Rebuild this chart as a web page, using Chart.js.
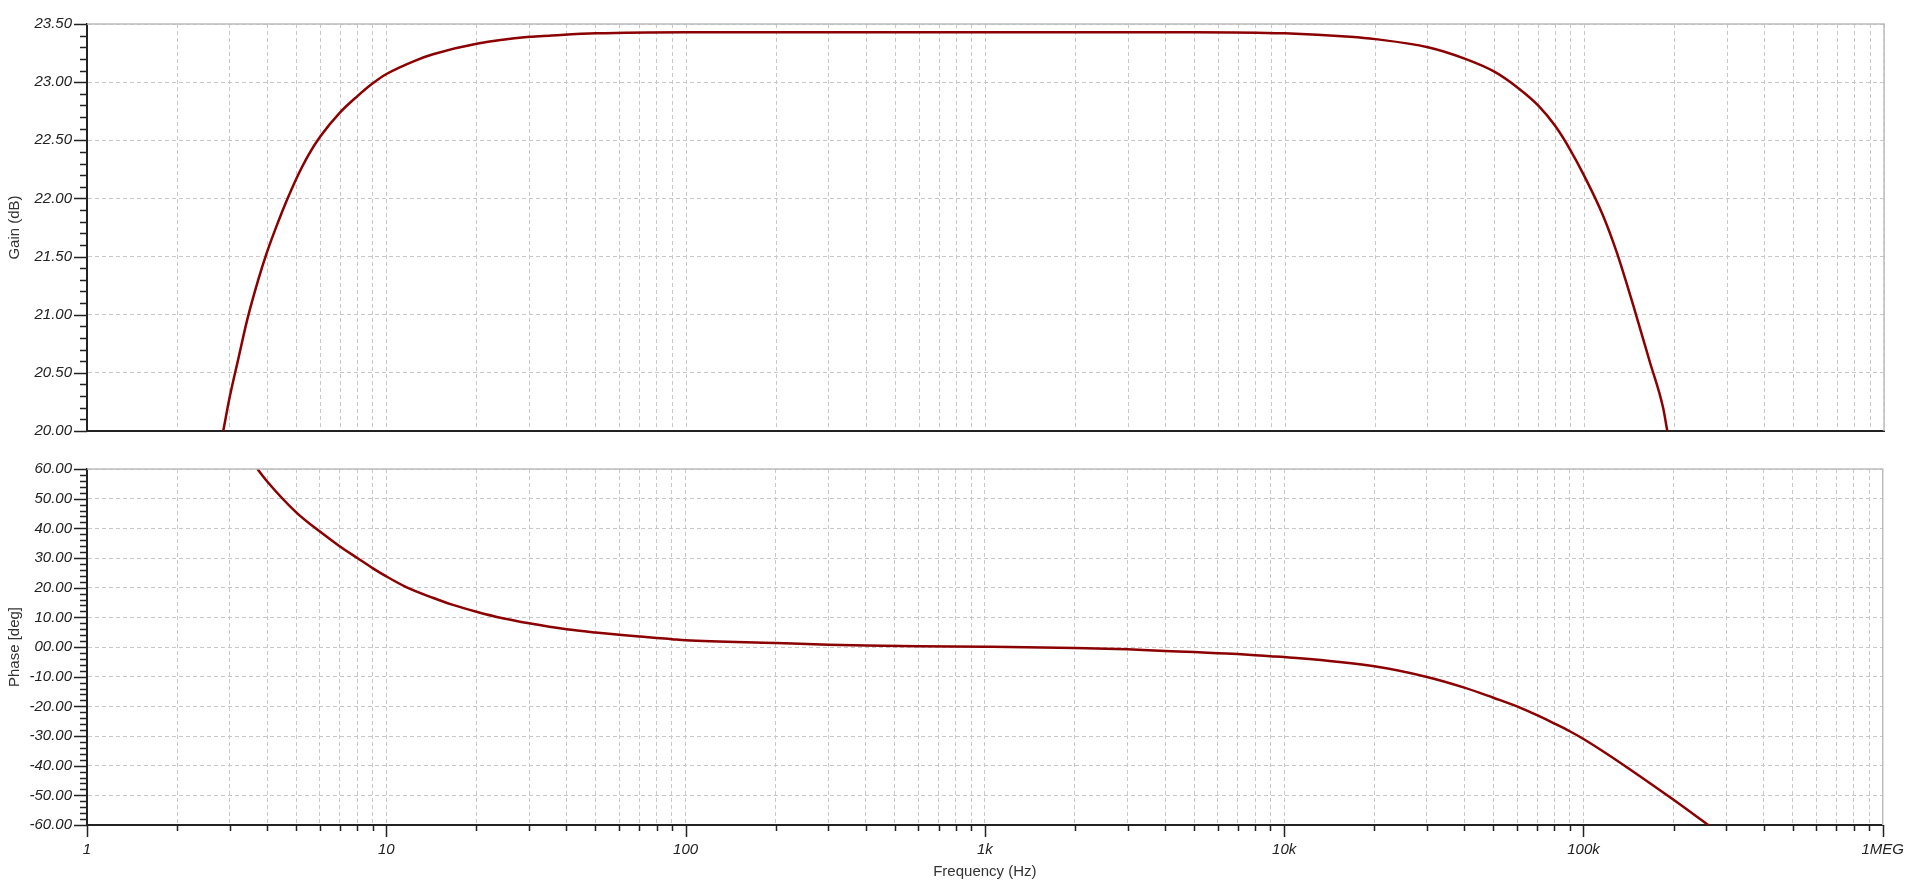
<!DOCTYPE html>
<html>
<head>
<meta charset="utf-8">
<title>Gain / Phase</title>
<script src="https://cdn.jsdelivr.net/npm/chart.js@4.4.0/dist/chart.umd.min.js"></script>
<style>
  html, body { margin: 0; padding: 0; background: #fff; }
  #wrap { position: relative; width: 1920px; height: 888px; }
  .box { position: absolute; left: 0; width: 1920px; }
</style>
</head>
<body>
<div id="wrap">
  <div class="box" style="top:0;height:455px"><canvas id="gain"></canvas></div>
  <div class="box" style="top:440px;height:448px"><canvas id="phase"></canvas></div>
</div>
<script>
// axe des fréquences (décades + libellés)
const decades = [1, 10, 100, 1000, 10000, 100000, 1000000];
const decadeLabels = ['1', '10', '100', '1k', '10k', '100k', '1MEG'];

// gain (dB)
const gainFreq = [2.85, 3.0, 3.2, 3.43, 3.73, 3.98, 4.35, 4.64, 5, 5.48, 6, 7, 8, 9, 10, 12.6, 14.3, 20, 30, 35, 50, 100,
  1000, 5000, 10000, 16500, 20000, 30000, 40000, 50000, 60000, 70000, 80000, 90000, 100000, 115000, 128000, 145500, 165000, 183000, 189000];
const gainDb = [20.0, 20.3, 20.62, 20.96, 21.3, 21.53, 21.8, 21.98, 22.17, 22.37, 22.53, 22.74, 22.88, 22.99, 23.07, 23.19, 23.24, 23.33, 23.39, 23.40, 23.42, 23.43,
  23.43, 23.43, 23.42, 23.39, 23.37, 23.30, 23.2, 23.09, 22.95, 22.8, 22.62, 22.41, 22.19, 21.86, 21.54, 21.08, 20.6, 20.2, 20.0];

// phase (deg)
const phaseFreq = [3.71, 4, 5, 6, 7, 8, 9, 10, 11.7, 14.3, 16.7, 20, 24.5, 30, 40, 50, 60, 70, 80, 90, 100, 200, 300, 400, 600,
  1000, 2000, 3000, 4000, 5000, 6000, 7000, 8000, 9000, 10000, 20000, 30000, 40000, 50000, 60000, 70000, 80000, 90000, 100000, 121000, 140000, 200000, 262000];
const phaseDeg = [60, 55.8, 45.4, 38.9, 33.9, 30, 26.6, 23.8, 20.1, 16.6, 14.2, 11.9, 9.7, 8.0, 6.0, 4.9, 4.15, 3.55, 3.05, 2.65, 2.3, 1.35, 0.8, 0.5, 0.25,
  0.1, -0.3, -0.8, -1.35, -1.7, -2.1, -2.4, -2.75, -3.1, -3.4, -6.5, -10.1, -13.7, -17.1, -20.0, -23.0, -25.8, -28.4, -31.0, -36.3, -40.6, -51.5, -60.1];

// graduations log : 1..9 x 10^n
const xTicks = [];
decades.forEach((d, i) => {
  if (i === decades.length - 1) { xTicks.push(d); return; }
  for (let k = 1; k <= 9; k++) xTicks.push(k * d);
});

const LINE = '#8b0000';
const GRID = '#c8c8c8';
const AXIS = '#222';
const tickFont = { family: 'Liberation Sans', size: 15, style: 'italic' };
const titleFont = { family: 'Liberation Sans', size: 15 };

// petites graduations + cadre haut/droite
const axisDecor = {
  id: 'axisDecor',
  afterDraw(chart, args, opts) {
    const { ctx, chartArea: a, scales } = chart;
    ctx.save();
    ctx.strokeStyle = '#bdbdbd';
    ctx.lineWidth = 1.5;
    ctx.beginPath();
    ctx.moveTo(a.left, a.top);
    ctx.lineTo(a.right, a.top);
    ctx.lineTo(a.right, a.bottom);
    ctx.stroke();

    ctx.strokeStyle = AXIS;
    ctx.lineWidth = 1.5;
    const y = scales.y;
    const n = Math.round((y.max - y.min) / opts.minorStep);
    ctx.beginPath();
    for (let i = 0; i <= n; i++) {
      const py = Math.round(y.getPixelForValue(y.min + i * opts.minorStep)) + 0.5;
      const len = i % opts.perMajor === 0 ? 13 : 7;
      ctx.moveTo(a.left, py);
      ctx.lineTo(a.left - len, py);
    }
    if (opts.xTicks) {
      const x = scales.x;
      xTicks.forEach(v => {
        const px = Math.round(x.getPixelForValue(v)) + 0.5;
        const len = decades.includes(v) ? 12 : 6;
        ctx.moveTo(px, a.bottom);
        ctx.lineTo(px, a.bottom + len);
      });
    }
    ctx.stroke();
    ctx.restore();
  }
};

function xScale(showLabels) {
  return {
    type: 'logarithmic',
    min: 1,
    max: 1000000,
    afterBuildTicks: (scale) => { scale.ticks = xTicks.map(v => ({ value: v })); },
    afterFit: (scale) => { scale.height = showLabels ? 63 : 0; },
    grid: { color: GRID, lineWidth: 1, drawTicks: false },
    border: { color: AXIS, width: 2, dash: [4, 3] },
    ticks: {
      display: showLabels,
      autoSkip: false,
      maxRotation: 0,
      padding: 16,
      color: AXIS,
      font: tickFont,
      callback: (v) => { const i = decades.indexOf(v); return i >= 0 ? decadeLabels[i] : ''; }
    },
    title: {
      display: showLabels,
      text: 'Frequency (Hz)',
      color: '#333',
      font: titleFont,
      padding: { top: 7, bottom: 7 }
    }
  };
}

function yScale(min, max, step, title, fmt) {
  return {
    min: min,
    max: max,
    afterFit: (scale) => { scale.width = 87; },
    grid: { color: GRID, lineWidth: 1, drawTicks: false },
    border: { color: AXIS, width: 2, dash: [4, 3] },
    ticks: { stepSize: step, padding: 15, color: AXIS, font: tickFont, callback: fmt },
    title: { display: true, text: title, color: '#333', font: titleFont, padding: { top: 6, bottom: 6 } }
  };
}

function makeChart(id, freqs, vals, yOpts, decor, padding) {
  return new Chart(document.getElementById(id), {
    type: 'line',
    data: {
      datasets: [{
        data: freqs.map((f, i) => ({ x: f, y: vals[i] })),
        borderColor: LINE,
        borderWidth: 2.5,
        pointRadius: 0,
        cubicInterpolationMode: 'monotone',
        fill: false
      }]
    },
    options: {
      responsive: true,
      maintainAspectRatio: false,
      animation: false,
      layout: { padding: padding },
      plugins: { legend: { display: false }, tooltip: { enabled: false }, axisDecor: decor },
      scales: { x: xScale(decor.xTicks), y: yOpts }
    },
    plugins: [axisDecor]
  });
}

makeChart('gain', gainFreq, gainDb,
  yScale(20, 23.5, 0.5, 'Gain (dB)', (v) => v.toFixed(2)),
  { minorStep: 0.1, perMajor: 5, xTicks: false },
  { top: 22, right: 36, bottom: 0, left: 0 });

makeChart('phase', phaseFreq, phaseDeg,
  yScale(-60, 60, 10, 'Phase [deg]', (v) => v === 0 ? '00.00' : v.toFixed(2)),
  { minorStep: 2, perMajor: 5, xTicks: true },
  { top: 29, right: 36, bottom: 0, left: 0 });
</script>
</body>
</html>
